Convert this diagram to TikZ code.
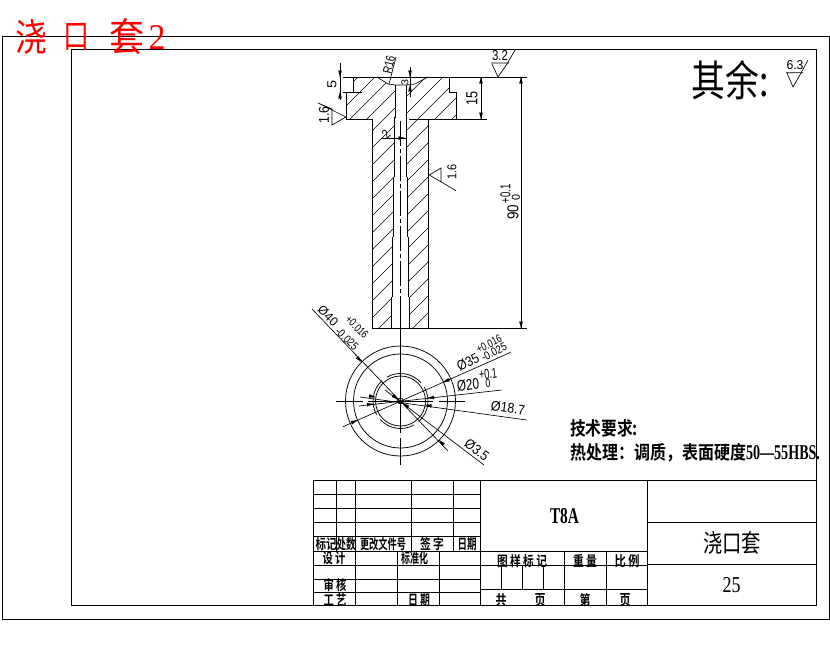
\documentclass[tikz,border=0pt]{standalone}
\usepackage{fontspec}
\usepackage{graphicx}
\usetikzlibrary{arrows.meta}
\setmainfont{Liberation Serif}
\newfontfamily\cjk[BoldFont={Noto Sans CJK SC Bold}]{Noto Sans CJK SC}
\newfontfamily\cad{Liberation Sans}
\newcommand\fitbox[3]{\resizebox{#1pt}{#2pt}{#3}}
\newcommand\tabt[4]{\node[txt] at (#1,#2) {\fitbox{#3}{12}{\cjk\bfseries #4}};}
\tikzset{
  line/.style={line width=0.75pt,black},
  outline/.style={line width=0.9pt,black},
  thin/.style={line width=0.65pt,black},
  tip/.style={line width=0.1pt,-{Triangle[length=6.5pt,width=3.4pt]}},
  txt/.style={inner sep=0pt,outer sep=0pt,black},
  center line/.style={line width=0.75pt,black,dash pattern=on 25pt off 3pt on 4pt off 3pt}
}
\begin{document}
\begin{tikzpicture}[x=1pt,y=-1pt]
\useasboundingbox (0,0) rectangle (830,654);
\fill[white] (0,0) rectangle (830,654);
% frames
\draw[line] (2.5,36) rectangle (829,619);
\draw[line] (71.5,49.5) rectangle (816,605);
% hatching
\begin{scope}
\clip (353,77)--(377,77)--(388,84)--(395,85)--(395,117)--(394.3,117)--(394.3,177)--(393.3,177)--(393.3,237)--(392.3,237)--(392.3,297)--(391.7,297)--(391.7,328)--(372.3,328)--(372.3,119)--(346,119)--(346,92)--(353,92)--cycle
 (406,85)--(415,84)--(428,77)--(449,77)--(449,92)--(456.7,92)--(456.7,119)--(428.3,119)--(428.3,328)--(409.3,328)--(409.3,297)--(408.3,297)--(408.3,237)--(407.7,237)--(407.7,177)--(406.7,177)--(406.7,117)--(406,117)--cycle;
\foreach \c in {0,...,22}{
  \draw[thin] ({78+\c*17},340) -- ({78+\c*17+280},60);
}
\end{scope}
% part outline
\draw[outline] (343,77)--(527,77);
\draw[outline] (353,77)--(353,92);
\draw[thin] (343,92)--(362,92);
\draw[outline] (346,92)--(346,119)--(372.3,119)--(372.3,328)--(527,328);
\draw[outline] (449,77)--(449,92)--(456.7,92)--(456.7,119);
\draw[outline] (409,119)--(487,119);
\draw[outline] (428.3,119)--(428.3,328);
\draw[thin] (377,77)--(388,84)--(395,85)--(406,85)--(415,84)--(428,77);
% bore
\draw[line] (395,85)--(395,117)--(394.3,117)--(394.3,177) (393.3,177)--(393.3,237) (392.3,237)--(392.3,297) (391.7,297)--(391.7,328);
\draw[line] (406,85)--(406,117)--(406.7,117)--(406.7,177) (407.7,177)--(407.7,237) (408.3,237)--(408.3,297) (409.3,297)--(409.3,328);
\draw[center line] (400.7,121)--(400.7,300);
\draw[line] (400.7,300)--(400.7,433);
\draw[line] (400.7,438)--(400.7,465);
% circles
\draw[line] (400.5,401) circle[radius=55];
\draw[line] (400.5,401) circle[radius=47];
\draw[line] (400.5,401) circle[radius=25];
\draw[line] (400.5,401) circle[radius=3];
\foreach \a in {-30,60,150,240}{
  \draw[line] ({400.5+27.5*cos(\a)},{401+27.5*sin(\a)}) arc[start angle=\a,delta angle=78,radius=27.5];
}
\draw[line] (336,401)--(363,401) (368,401)--(433,401) (439,401)--(465,401);
% dimensions: section
\draw[thin] (340,63)--(340,100);
\draw[tip] (340,70.5)--(340,77);
\draw[tip] (340,98.5)--(340,92);
\node[txt,rotate=90] at (332,84) {\fitbox{8}{9}{\cad 5}};
\draw[thin] (410,67)--(410,97);
\draw[tip] (410,70.5)--(410,77);
\draw[tip] (410,91.5)--(410,85);
\node[txt,rotate=90] at (405,82) {\fitbox{6}{7}{\cad 3}};
\draw[thin] (389,84)--(396,57);
\node[txt,rotate=77] at (389,65) {\fitbox{18}{9}{\cad R16}};
\draw[thin] (481,77)--(481,119);
\draw[tip] (481,83.5)--(481,77);
\draw[tip] (481,112.5)--(481,119);
\node[txt,rotate=90] at (472,98) {\fitbox{14}{11}{\cad 15}};
\draw[thin] (382,138)--(407,138);
\draw[tip] (397.5,138)--(405,138);
\node[txt,rotate=45] at (386,134) {\fitbox{6}{9}{\cad 2}};
\draw[thin] (521,77)--(521,328);
\draw[tip] (521,83.5)--(521,77);
\draw[tip] (521,321.5)--(521,328);
\node[txt,rotate=90] at (513,212) {\fitbox{15}{11}{\cad 90}};
\node[txt,rotate=90] at (505.5,194) {\fitbox{19}{10}{\cad +0.1}};
\node[txt,rotate=90] at (516,197) {\fitbox{6}{8}{\cad 0}};
% roughness
\draw[thin] (491,63)--(509,63) (492,64)--(498,77)--(507,64)--(515,50);
\node[txt] at (500,56) {\fitbox{16}{10}{\cad 3.2}};
\draw[thin] (318,103)--(332,109)--(332,125)--(346,117)--cycle;
\node[txt,rotate=90] at (324,115) {\fitbox{17}{10}{\cad 1.6}};
\draw[thin] (456,190.7)--(429.3,175)--(441,168)--(441,182);
\node[txt,rotate=90] at (452,172) {\fitbox{15}{9}{\cad 1.6}};
\draw[thin] (786,72.7)--(803,72.7) (787,73)--(793,87)--(801,73)--(808,60);
\node[txt] at (795,65.5) {\fitbox{17}{9}{\cad 6.3}};
% dimensions: circle
\draw[thin] (312,309)--(448,451);
\draw[tip] (355,355)--(361.5,362);
\draw[tip] (444.5,445.5)--(439,440);
\node[txt,rotate=-45] at (328,316) {\fitbox{23}{9}{\cad Ø40}};
\node[txt,rotate=-45] at (357,327) {\fitbox{27}{8}{\cad +0.016}};
\node[txt,rotate=-45] at (347,339) {\fitbox{27}{8}{\cad -0.025}};
\draw[thin] (510.7,352.3)--(343,426.7);
\draw[tip] (449.5,379.5)--(443,382.3);
\draw[tip] (351,423)--(357.5,420);
\node[txt,rotate=27] at (468,362) {\fitbox{23}{10}{\cad Ø35}};
\node[txt,rotate=27] at (489,344) {\fitbox{27}{8}{\cad +0.016}};
\node[txt,rotate=27] at (494,352) {\fitbox{27}{8}{\cad -0.025}};
\draw[thin] (501.7,390)--(359,406);
\draw[tip] (434,397.5)--(427.5,398);
\draw[tip] (367,404.6)--(373.5,404);
\node[txt,rotate=6] at (468,385) {\fitbox{22}{11}{\cad Ø20}};
\node[txt,rotate=6] at (488,374) {\fitbox{18}{10}{\cad +0.1}};
\node[txt,rotate=6] at (488,383) {\fitbox{5}{8}{\cad 0}};
\draw[thin] (526.7,420)--(360,397);
\draw[tip] (431.5,406)--(425,405);
\draw[tip] (369,396)--(375.5,397);
\node[txt,rotate=-8] at (508,408) {\fitbox{34}{10}{\cad Ø18.7}};
\draw[thin] (484,465)--(385,390);
\draw[tip] (392.8,395.5)--(398,399.4);
\draw[tip] (408,407)--(403,403);
\node[txt,rotate=-38] at (477,450) {\fitbox{27}{10}{\cad Ø3.5}};
% title
\node[txt,red] at (31,37) {\fitbox{32}{32}{\cjk 浇}};
\node[txt,red] at (76,37) {\fitbox{26}{25}{\cjk 口}};
\node[txt,red] at (127,37) {\fitbox{35}{33}{\cjk 套}};
\node[txt,red] at (157,37) {\fitbox{17}{24}{2}};
\node[txt] at (730,80.5) {\fitbox{77}{36}{\cjk 其余:}};
\node[txt,anchor=west] at (570,428) {\fitbox{68}{16}{\cjk\bfseries 技术要求:}};
\node[txt,anchor=west] at (570,453) {\fitbox{176}{16}{\cjk\bfseries 热处理\symbol{"FF1A}调质\symbol{"FF0C}表面硬度}};
\node[txt,anchor=west] at (746,452.5) {\fitbox{74}{14}{\bfseries 50—55HBS.}};
% title block
\draw[line] (313.3,480)--(816,480);
\draw[line] (313.3,480)--(313.3,605)--(647.7,605);
\foreach \y in {494.3,508.3,522.3,536.7}{\draw[line] (313.3,\y)--(480.3,\y);}
\foreach \y in {551,565}{\draw[line] (313.3,\y)--(647.7,\y);}
\foreach \y in {579,592.3}{\draw[line] (313.3,\y)--(480.3,\y);}
\draw[line] (480.3,589)--(647.7,589);
\foreach \x in {336.7,355.7,411,453.3}{\draw[line] (\x,480)--(\x,551);}
\foreach \x in {355.7,397.3,439.3}{\draw[line] (\x,551)--(\x,605);}
\draw[line] (480.3,480)--(480.3,605);
\foreach \x in {501.3,522.3,543.3}{\draw[line] (\x,565)--(\x,589);}
\foreach \x in {564.3,606.3}{\draw[line] (\x,551)--(\x,605);}
\draw[line] (647.7,480)--(647.7,605);
\draw[line] (647.7,522.5)--(816,522.5) (647.7,564.5)--(816,564.5);
\node[txt] at (564.5,516.5) {\fitbox{29}{15}{\bfseries T8A}};
\node[txt] at (732,543.5) {\fitbox{58}{21}{\cjk 浇口套}};
\node[txt] at (731.5,585.5) {\fitbox{18}{15}{25}};
\tabt{326}{544}{21}{标记}
\tabt{346}{544}{19}{处数}
\tabt{383}{544}{46}{更改文件号}
\tabt{432}{544}{24}{签 字}
\tabt{467}{544}{19}{日期}
\tabt{334}{558}{23}{设 计}
\tabt{414.5}{558}{27}{标准化}
\tabt{335}{585}{23}{审 核}
\tabt{335}{600}{23}{工 艺}
\tabt{419}{600}{22}{日 期}
\tabt{522}{561}{50}{图 样 标 记}
\tabt{585}{561}{24}{重 量}
\tabt{627}{561}{25}{比 例}
\tabt{501}{600}{11}{共}
\tabt{540}{600}{11}{页}
\tabt{585}{600}{11}{第}
\tabt{625}{600}{11}{页}
\end{tikzpicture}
\end{document}
